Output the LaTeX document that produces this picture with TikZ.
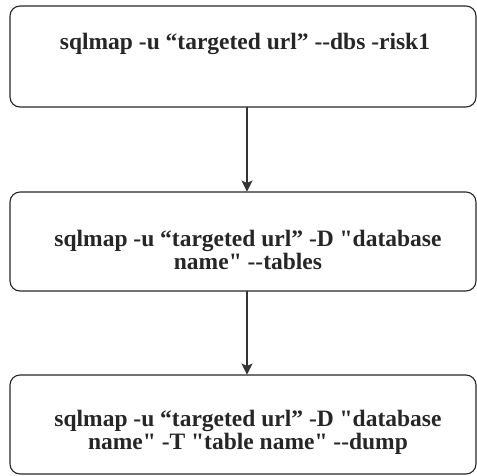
\documentclass[tikz,border=0pt]{standalone}
\usepackage{fontspec}
\setmainfont{Liberation Serif}
\usetikzlibrary{arrows.meta}
\newcommand{\dq}{\textquotedbl}
\newcommand{\dd}{-{}-}
\begin{document}
\begin{tikzpicture}[x=1pt,y=-1pt,
  stepbox/.style={draw=black!85, line width=1.1pt, rounded corners=10pt,
    minimum width=466pt, inner sep=0pt},
  cmdtext/.style={font=\fontsize{23.5}{23}\selectfont\bfseries, align=center,
    text=black!85, inner sep=0pt},
  flow/.style={draw=black!80, line width=1.1pt,
    -{Stealth[length=11pt,width=11pt,inset=2.5pt]}}]
  \useasboundingbox (0,0) rectangle (477,475);
  % three command boxes
  \node[stepbox, minimum height=101pt] (b1) at (243,56.5) {};
  \node[stepbox, minimum height=99pt] (b2) at (243,241.5) {};
  \node[stepbox, minimum height=99pt] (b3) at (243,424.5) {};
  % commands
  \node[cmdtext] (t1) at (245,44) {sqlmap -u “targeted url” \dd dbs -risk1};
  \node[cmdtext] (t2) at (248,250) {sqlmap -u “targeted url” -D \dq database\\ name\dq{} \dd tables};
  \node[cmdtext] (t3) at (248,432) {sqlmap -u “targeted url” -D \dq database\\ name\dq{} -T \dq table name\dq{} \dd dump};
  % flow between steps
  \coordinate (a1) at (247,107);
  \coordinate (a2) at (247,191.5);
  \coordinate (a3) at (247,291);
  \coordinate (a4) at (247,374.5);
  \draw[flow] (a1) -- (a2);
  \draw[flow] (a3) -- (a4);
\end{tikzpicture}
\end{document}
